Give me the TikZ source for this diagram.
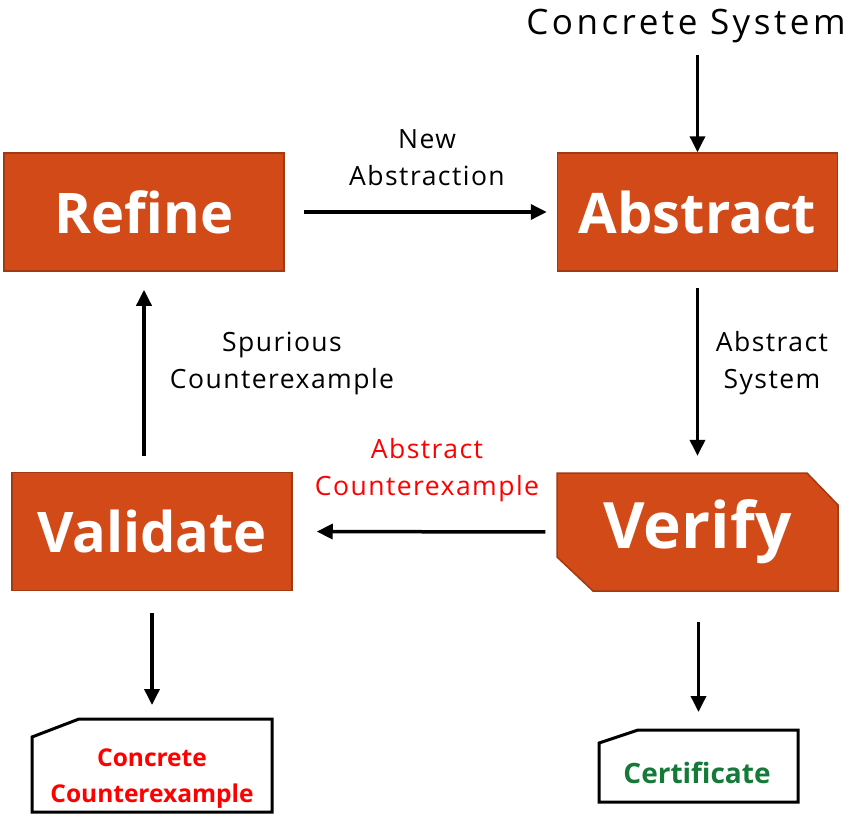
\documentclass[tikz,border=0pt]{standalone}
\usepackage{fontspec}
\setmainfont{Open Sans}
\newfontfamily\lblfont[LetterSpace=5.5]{Open Sans}
\newfontfamily\csfont[LetterSpace=10]{Open Sans}
\usetikzlibrary{arrows.meta}
\definecolor{boxfill}{HTML}{D14A18}
\definecolor{boxline}{HTML}{A03A12}
\definecolor{certgreen}{HTML}{157A38}
\definecolor{cered}{HTML}{FF0000}
\tikzset{
  procbox/.style={fill=boxfill, draw=boxline, line width=1.5pt, minimum width=280pt, minimum height=118pt, inner sep=0pt, text=white, font=\fontsize{56}{70}\selectfont\bfseries},
  textonly/.style={inner sep=0pt, minimum width=280pt, minimum height=118pt, text=white},
  lbl/.style={align=center, inner sep=0pt, font=\lblfont\fontsize{26.5}{37}\selectfont},
  outlbl/.style={align=center, inner sep=0pt, font=\fontsize{24.5}{36}\selectfont\bfseries},
  flow/.style={-{Triangle[length=16pt,width=15pt]}, line width=3.5pt},
  outline/.style={draw=black, line width=3pt, fill=white, line join=miter}
}
\begin{document}
\begin{tikzpicture}[x=1pt,y=-1pt]
\useasboundingbox (0,0) rectangle (855,817);
% main boxes
\node[procbox] (refine) at (144,212) {Refine};
\node[procbox] (abstract) at (697.5,212) {Abstract};
\node[procbox] (validate) at (152,531.5) {Validate};
% verify chamfered box
\fill[boxfill, draw=boxline, line width=1.5pt] (557,473) -- (807,473) -- (838,505) -- (838,591) -- (593,591) -- (557,557) -- cycle;
\node[textonly, font=\fontsize{64}{70}\selectfont\bfseries] (verify) at (697.5,532) {Verify};
% output boxes
\draw[outline] (32,737) -- (79,719) -- (272,719) -- (272,812) -- (32,812) -- cycle;
\coordinate (ccetop) at (152,719);
\node[outlbl, text=cered] (cce) at (152,779) {Concrete\\Counterexample};
\draw[outline] (599,743) -- (638,730) -- (798,730) -- (798,802) -- (599,802) -- cycle;
\coordinate (certtop) at (698.5,730);
\node[inner sep=0pt, text=certgreen, font=\fontsize{28}{36}\selectfont\bfseries] (cert) at (697,773) {Certificate};
% input text
\node[inner sep=0pt, font=\csfont\fontsize{35}{40}\selectfont] (concrete) at (686,26) {Concrete System};
% labels
\node[lbl] (newabs) at (427,158) {New\\Abstraction};
\node[lbl] (abssys) at (772,363) {Abstract\\System};
\node[lbl] (spur) at (282,363) {Spurious\\Counterexample};
\node[lbl, text=cered] (absce) at (427,470) {Abstract\\Counterexample};
% connectors
\draw[flow] (concrete.south -| abstract.north) ++(0,12) coordinate (cs) -- (abstract.north);
\draw[flow, shorten <=19pt, shorten >=10pt] (refine.east) -- (abstract.west);
\draw[flow, shorten <=16pt, shorten >=17pt] (abstract.south) -- (verify.north);
\draw[flow, shorten <=12pt, shorten >=24pt] (verify.west) -- (validate.east);
\draw[flow, shorten <=16pt, shorten >=18pt] (validate.north -| refine.south) -- (refine.south);
\draw[flow, shorten <=22pt, shorten >=14pt] (validate.south) -- (ccetop);
\draw[flow, shorten <=31pt, shorten >=18pt] (verify.south -| certtop) -- (certtop);
\end{tikzpicture}
\end{document}
